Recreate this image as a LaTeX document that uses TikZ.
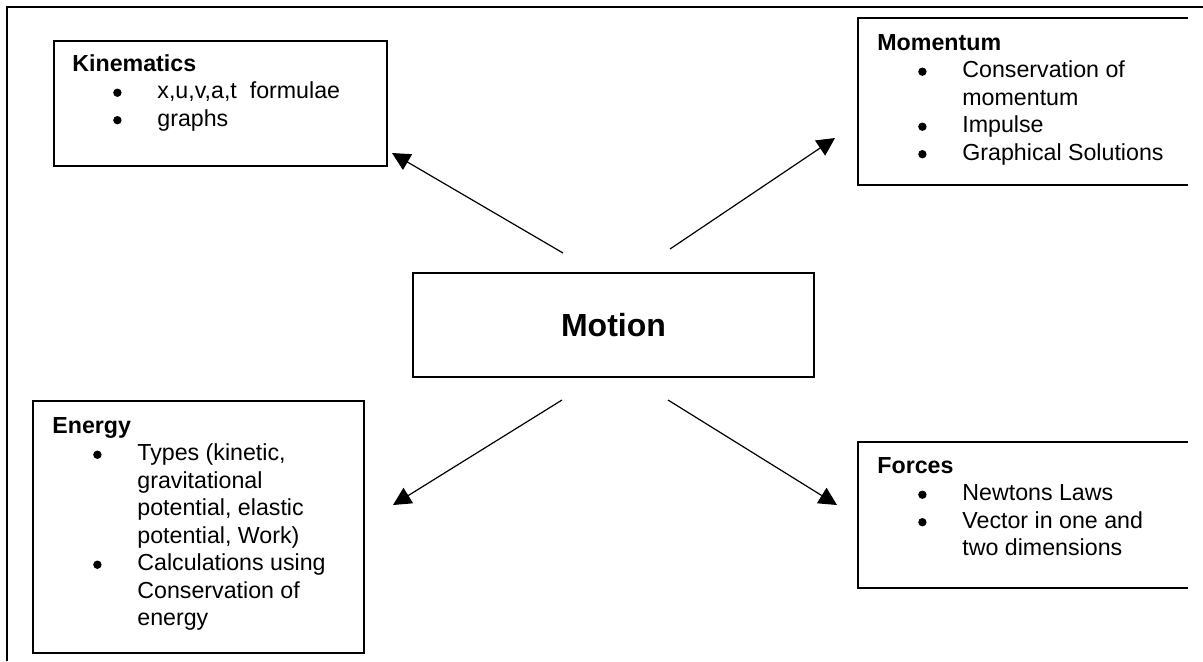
\documentclass[tikz,border=0pt]{standalone}
\usepackage{fontspec}
\setmainfont{Liberation Sans}
\usetikzlibrary{arrows.meta}
\newcommand{\bigdot}{\tikz[baseline=0pt]\fill (0pt,2.9pt) circle[radius=2.1pt];}
\newcommand{\bitem}[1]{\hspace*{22.5pt}\makebox[0pt]{\bigdot}\hspace*{20pt}#1}
\newcommand{\bcont}[1]{\hspace*{42.5pt}#1}
\begin{document}
\begin{tikzpicture}[x=0.5pt,y=-0.5pt,
  box/.style={draw,line width=0.75pt,inner sep=0pt,anchor=north west},
  edge/.style={line width=0.75pt},
  txt/.style={inner sep=0pt,anchor=base west,font=\fontsize{11.6}{13.75}\selectfont},
  arr/.style={line width=0.6pt,-{Triangle[length=9pt,width=9pt]}}]
\useasboundingbox (0,0) rectangle (1203,661);
% outer frame (only top and left visible)
\coordinate (fbl) at (7,661);
\coordinate (ftl) at (7,7);
\coordinate (ftr) at (1203,7);
\draw[edge] (fbl) -- (ftl) -- (ftr);

% boxes
\node[box,minimum width=166.5pt,minimum height=62.5pt] (kin) at (53,40) {};
\node[box,minimum width=165.5pt,minimum height=126pt] (ene) at (32,400) {};
\node[draw,line width=0.75pt,inner sep=0pt,minimum width=200.5pt,minimum height=52pt,
      font=\fontsize{16}{19}\selectfont\bfseries] (mot) at (613.5,325) {Motion};
\coordinate (m1) at (1188,18);
\coordinate (m2) at (858,18);
\coordinate (m3) at (858,185);
\coordinate (m4) at (1188,185);
\draw[edge] (m1) -- (m2) -- (m3) -- (m4);
\coordinate (f1) at (1188,442);
\coordinate (f2) at (858,442);
\coordinate (f3) at (858,588);
\coordinate (f4) at (1188,588);
\draw[edge] (f1) -- (f2) -- (f3) -- (f4);

% texts
\node[txt] (kint) at (72,71) {\begin{tabular}[t]{@{}l@{}}
\textbf{Kinematics}\\
\bitem{x,u,v,a,t\ \ formulae}\\
\bitem{graphs}
\end{tabular}};
\node[txt] (momt) at (877,50) {\begin{tabular}[t]{@{}l@{}}
\textbf{Momentum}\\
\bitem{Conservation of}\\
\bcont{momentum}\\
\bitem{Impulse}\\
\bitem{Graphical Solutions}
\end{tabular}};
\node[txt] (enet) at (52,433) {\begin{tabular}[t]{@{}l@{}}
\textbf{Energy}\\
\bitem{Types (kinetic,}\\
\bcont{gravitational}\\
\bcont{potential, elastic}\\
\bcont{potential, Work)}\\
\bitem{Calculations using}\\
\bcont{Conservation of}\\
\bcont{energy}
\end{tabular}};
\node[txt] (fort) at (877,473) {\begin{tabular}[t]{@{}l@{}}
\textbf{Forces}\\
\bitem{Newtons Laws}\\
\bitem{Vector in one and}\\
\bcont{two dimensions}
\end{tabular}};

% arrows
\coordinate (a1s) at (563,253);
\coordinate (a1e) at (392,153);
\coordinate (a2s) at (670,249);
\coordinate (a2e) at (835,138);
\coordinate (a3s) at (562,400);
\coordinate (a3e) at (393,505);
\coordinate (a4s) at (668,400);
\coordinate (a4e) at (837,505);
\draw[arr] (a1s) -- (a1e);
\draw[arr] (a2s) -- (a2e);
\draw[arr] (a3s) -- (a3e);
\draw[arr] (a4s) -- (a4e);
\end{tikzpicture}
\end{document}
